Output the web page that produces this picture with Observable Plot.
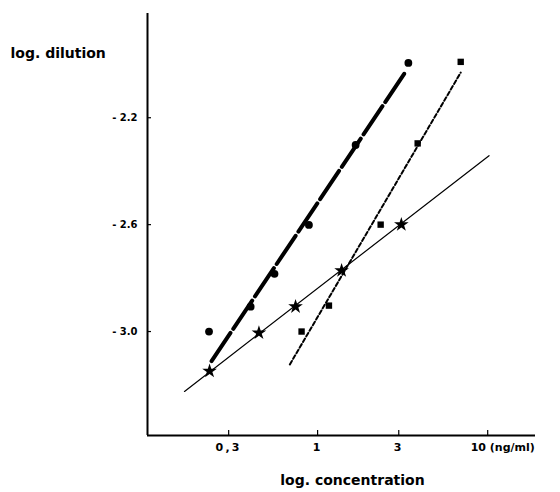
<!DOCTYPE html>
<html>
<head>
<meta charset="utf-8">
<script src="https://cdn.jsdelivr.net/npm/d3@7"></script>
<script src="https://cdn.jsdelivr.net/npm/@observablehq/plot@0.6"></script>
<style>
  html, body { margin: 0; padding: 0; background: #fff; }
  svg { display: block; }
</style>
</head>
<body>
<div id="chart"></div>
<script>
// Tick values and labels
const xTicks = [0.3, 1, 3];
const xTickLabels = ["0,3", "1", "3"];
const xLastTick = [10];
const xLastLabel = "10 (ng/ml)";
const yTicks = [-2.2, -2.6, -3.0];
const yTickLabels = ["- 2.2", "- 2.6", "- 3.0"];
const xDomain = [0.1, 19.1];
const yDomain = [-3.389, -1.81];

// Series: circles
const circleX = [0.23, 0.404, 0.558, 0.889, 1.673, 3.417];
const circleY = [-3.0, -2.907, -2.784, -2.601, -2.302, -1.995];
const circleFitX = [0.238, 3.32];
const circleFitY = [-3.111, -2.024];

// Series: squares
const squareX = [0.805, 1.166, 2.348, 3.875, 6.94];
const squareY = [-3.0, -2.903, -2.6, -2.296, -1.991];
const squareFitX = [0.687, 6.94];
const squareFitY = [-3.123, -2.031];

// Series: stars
const starX = [0.2317, 0.452, 0.742, 1.384, 3.107];
const starY = [-3.148, -3.005, -2.907, -2.772, -2.6];
const starFitX = [0.165, 10.18];
const starFitY = [-3.224, -2.342];

const zip = (xs, ys) => xs.map((x, i) => ({x, y: ys[i]}));
const circles = zip(circleX, circleY);
const squares = zip(squareX, squareY);
const stars = zip(starX, starY);
const circleFit = zip(circleFitX, circleFitY);
const squareFit = zip(squareFitX, squareFitY);
const starFit = zip(starFitX, starFitY);

const font = "DejaVu Sans, Liberation Sans, sans-serif";

const chart = Plot.plot({
  width: 560,
  height: 492,
  marginLeft: 147,
  marginRight: 25,
  marginTop: 13,
  marginBottom: 57,
  style: {fontFamily: font, background: "#fff", color: "#000"},
  x: {type: "log", domain: xDomain, axis: null},
  y: {domain: yDomain, axis: null},
  marks: [
    // axis lines
    Plot.ruleX([xDomain[0]], {stroke: "#000", strokeWidth: 2}),
    Plot.ruleY([yDomain[0]], {stroke: "#000", strokeWidth: 2}),
    // tick marks (inward)
    Plot.tickX(xTicks.concat(xLastTick), {x: d => d, insetTop: 417, stroke: "#000", strokeWidth: 1.2}),
    Plot.tickY(yTicks, {y: d => d, insetRight: 384, stroke: "#000", strokeWidth: 1.2}),
    // tick labels
    Plot.axisX({
      ticks: xTicks, tickSize: 0, tickPadding: 8,
      tickFormat: d => xTickLabels[xTicks.indexOf(d)],
      fontSize: 11, fontWeight: "bold", label: null
    }),
    Plot.text(xLastTick, {
      x: d => d, frameAnchor: "bottom", text: () => xLastLabel, lineAnchor: "top",
      textAnchor: "start", dx: -17, dy: 8, fontSize: 11, fontWeight: "bold", ariaLabel: "xlabels2"
    }),
    Plot.axisY({
      ticks: yTicks, tickSize: 0, tickPadding: 10,
      tickFormat: d => yTickLabels[yTicks.indexOf(d)],
      fontSize: 10, fontWeight: "bold", label: null
    }),
    // axis titles
    Plot.text(["log. dilution"], {
      frameAnchor: "top-left", text: d => d, textAnchor: "start",
      dx: -137, dy: 35, fontSize: 14, fontWeight: "bold", ariaLabel: "title"
    }),
    Plot.text(["log. concentration"], {
      frameAnchor: "bottom", text: d => d, textAnchor: "middle",
      dx: 11, dy: 49, fontSize: 14, fontWeight: "bold", ariaLabel: "title"
    }),
    // fit lines
    Plot.line(starFit, {x: "x", y: "y", stroke: "#000", strokeWidth: 1.2}),
    Plot.line(squareFit, {x: "x", y: "y", stroke: "#000", strokeWidth: 2, strokeDasharray: "4,2.5"}),
    Plot.line(circleFit, {x: "x", y: "y", stroke: "#000", strokeWidth: 4, strokeDasharray: "34,5"}),
    // points
    Plot.dot(circles, {x: "x", y: "y", r: 3.9, fill: "#000", symbol: "circle"}),
    Plot.dot(squares, {x: "x", y: "y", r: 3.6, fill: "#000", symbol: "square"}),
    Plot.dot(stars, {x: "x", y: "y", r: 4.6, fill: "#000", symbol: "star"})
  ]
});

d3.select(chart).selectAll('g[aria-label="title"] text').attr("letter-spacing", 2.1);
d3.select(chart).selectAll('g[aria-label="x-axis tick label"] text, g[aria-label="xlabels2"] text').attr("letter-spacing", 2.2);

document.getElementById("chart").appendChild(chart);
</script>
</body>
</html>
